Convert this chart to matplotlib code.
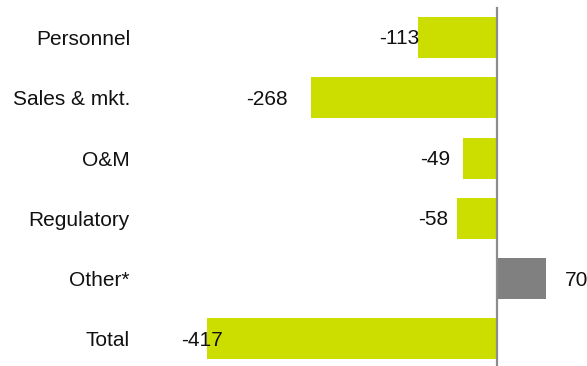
import matplotlib.pyplot as plt
import numpy as np

plt.rcParams['font.family'] = ['Liberation Sans', 'DejaVu Sans']

categories = ['Personnel', 'Sales & mkt.', 'O&M', 'Regulatory', 'Other*', 'Total']
values = [-113, -268, -49, -58, 70, -417]
labels = ['-113', '-268', '-49', '-58', '70', '-417']

green = '#ccdd00'
grey = '#808080'
colors = [grey if v > 0 else green for v in values]

# label offsets from bar end, in pixels (as placed in the original)
label_dx = [1, -23, -13, -8, 19, 16]

fig = plt.figure(figsize=(5.87, 3.66), dpi=100)
ax = fig.add_axes([140 / 587, 0, 447 / 587, 1])

y = np.arange(len(categories))
ax.barh(y, values, height=0.68, color=colors, zorder=2)
ax.axvline(0, ymin=0, ymax=1 - 8 / 366, color='#8c8c8c', linewidth=1.6, zorder=3)

for yi, v, lab, dx in zip(y, values, labels, label_dx):
    ha = 'left' if v > 0 else 'right'
    ax.annotate(lab, xy=(v, yi), xytext=(dx * 0.72, -1), textcoords='offset points',
                ha=ha, va='center', fontsize=15, color='#111111', zorder=5)

ax.set_xlim(-513.3, 129.4)
ax.set_ylim(5.448, -0.622)
ax.set_yticks(y)
ax.set_yticklabels(categories, fontsize=15, color='#111111')
ax.tick_params(axis='y', length=0, pad=7.2)
ax.set_xticks([])
for s in ax.spines.values():
    s.set_visible(False)

fig.savefig('out.png', dpi=100)
